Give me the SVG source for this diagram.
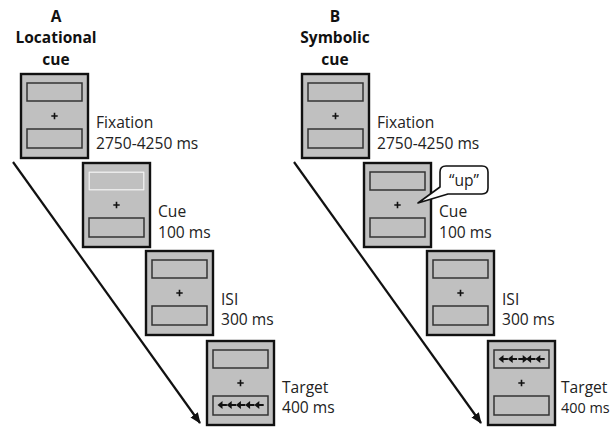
<svg xmlns="http://www.w3.org/2000/svg" xmlns:xlink="http://www.w3.org/1999/xlink" width="613" height="427" viewBox="0 0 613 427">
  <style>
    .screen { fill: #c0c0c0; stroke: #111; stroke-width: 2.4; }
    .box { fill: #c0c0c0; stroke: #333; stroke-width: 1.5; }
    .box-cued { fill: #c0c0c0; stroke: #f4f4f4; stroke-width: 1.6; }
    .fix { stroke: #111; stroke-width: 1.6; fill: none; }
    .label { font-family: "Open Sans", "DejaVu Sans", sans-serif; font-size: 15.6px; fill: #222; }
    .head { font-family: "Open Sans", "DejaVu Sans", sans-serif; font-size: 15.5px; font-weight: bold; fill: #111; text-anchor: middle; }
    .timeline { stroke: #111; stroke-width: 2.2; fill: none; }
    .flank { fill: #111; }
    .bubble { fill: #fff; stroke: #111; stroke-width: 1.6; stroke-linejoin: round; }
  </style>
  <defs>
    <marker id="tip" markerWidth="11" markerHeight="10" refX="10" refY="5" orient="auto" markerUnits="userSpaceOnUse">
      <path d="M0,0.5 L11,5 L0,9.5 Z" fill="#111"/>
    </marker>
    <!-- one left-pointing flanker arrow, 9px long -->
    <path id="arrowL" d="M0,0 L5,-4 L5,4 Z M4,-1.1 H9.4 V1.1 H4 Z"/>
    <!-- bare display: frame, two placeholder boxes and fixation cross -->
    <g id="display">
      <rect class="screen" x="0" y="0" width="67" height="84"/>
      <rect class="box" x="6" y="9" width="55" height="18"/>
      <rect class="box" x="6" y="55" width="55" height="19"/>
      <path class="fix" d="M30.3,42 H36.7 M33.5,38.8 V45.2"/>
    </g>
  </defs>

  <!-- panel headings -->
  <g id="heading-a">
    <text class="head" x="56" y="22">A</text>
    <text class="head" x="56" y="43">Locational</text>
    <text class="head" x="56" y="65">cue</text>
  </g>
  <g id="heading-b">
    <text class="head" x="335" y="22">B</text>
    <text class="head" x="335" y="43">Symbolic</text>
    <text class="head" x="335" y="65">cue</text>
  </g>

  <!-- time axes -->
  <g id="connectors">
    <line class="timeline" x1="13" y1="162" x2="200" y2="423" marker-end="url(#tip)"/>
    <line class="timeline" x1="294" y1="162" x2="481" y2="423" marker-end="url(#tip)"/>
  </g>

  <!-- Panel A: locational cue -->
  <g id="a-fixation">
    <use xlink:href="#display" x="21" y="74"/>
    <text class="label" x="96" y="128">Fixation</text>
    <text class="label" x="96" y="149">2750-4250 ms</text>
  </g>
  <g id="a-cue">
    <use xlink:href="#display" x="83" y="163"/>
    <rect class="box-cued" x="89" y="172" width="55" height="18"/>
    <text class="label" x="158" y="217">Cue</text>
    <text class="label" x="158" y="238">100 ms</text>
  </g>
  <g id="a-isi">
    <use xlink:href="#display" x="146" y="251"/>
    <text class="label" x="221" y="305">ISI</text>
    <text class="label" x="221" y="325">300 ms</text>
  </g>
  <g id="a-target">
    <use xlink:href="#display" x="207" y="341"/>
    <g class="flank">
      <use xlink:href="#arrowL" x="217.5" y="405"/>
      <use xlink:href="#arrowL" x="226.7" y="405"/>
      <use xlink:href="#arrowL" x="235.9" y="405"/>
      <use xlink:href="#arrowL" x="245.1" y="405"/>
      <use xlink:href="#arrowL" x="254.3" y="405"/>
    </g>
    <text class="label" x="282" y="393">Target</text>
    <text class="label" x="282" y="413">400 ms</text>
  </g>

  <!-- Panel B: symbolic cue -->
  <g id="b-fixation">
    <use xlink:href="#display" x="302" y="74"/>
    <text class="label" x="377" y="128">Fixation</text>
    <text class="label" x="377" y="149">2750-4250 ms</text>
  </g>
  <g id="b-cue">
    <use xlink:href="#display" x="364" y="163"/>
    <path class="bubble" d="M446,166 H482 Q488,166 488,172 V188 Q488,194 482,194 H448 L418,203 L440,187 V172 Q440,166 446,166 Z"/>
    <text class="label" x="464" y="186" text-anchor="middle">“up”</text>
    <text class="label" x="439" y="217">Cue</text>
    <text class="label" x="439" y="238">100 ms</text>
  </g>
  <g id="b-isi">
    <use xlink:href="#display" x="427" y="251"/>
    <text class="label" x="502" y="305">ISI</text>
    <text class="label" x="502" y="325">300 ms</text>
  </g>
  <g id="b-target">
    <use xlink:href="#display" x="488" y="341"/>
    <g class="flank">
      <use xlink:href="#arrowL" x="498.5" y="359"/>
      <use xlink:href="#arrowL" x="507.7" y="359"/>
      <use xlink:href="#arrowL" transform="translate(1044.6,0) scale(-1,1)" x="516.9" y="359"/>
      <use xlink:href="#arrowL" x="526.1" y="359"/>
      <use xlink:href="#arrowL" x="535.3" y="359"/>
    </g>
    <text class="label" x="561" y="393">Target</text>
    <text class="label" x="561" y="413" style="font-size:14.4px">400 ms</text>
  </g>
</svg>
